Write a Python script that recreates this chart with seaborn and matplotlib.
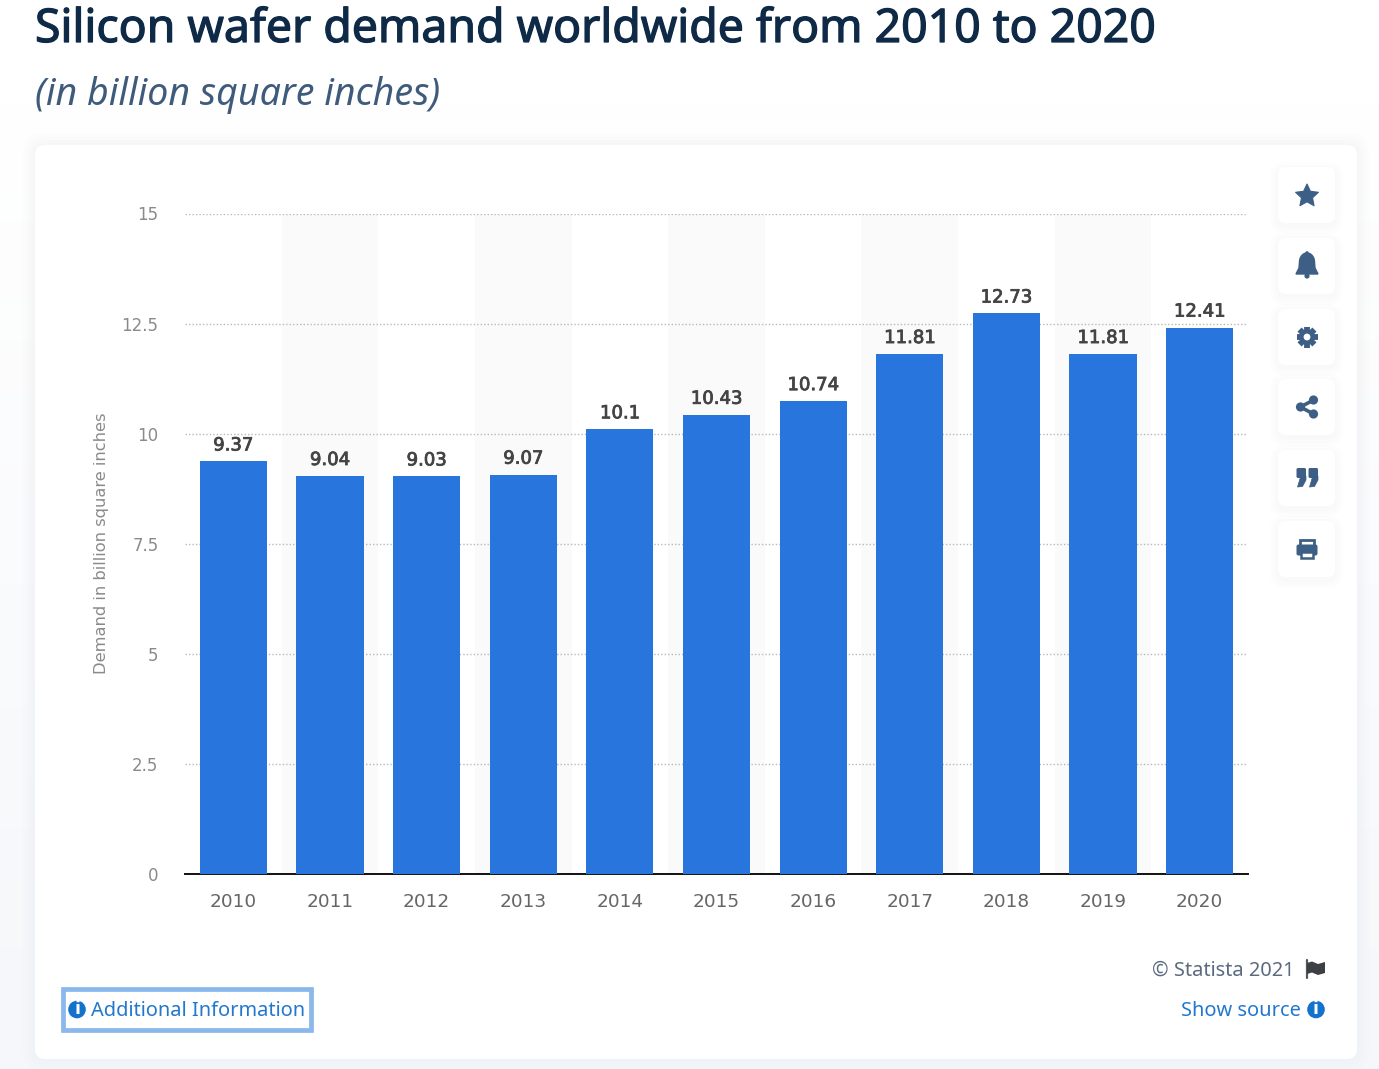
import matplotlib
matplotlib.use("Agg")
import matplotlib.pyplot as plt
import matplotlib.patheffects as pe
from matplotlib.patches import FancyBboxPatch, Rectangle, Circle, Polygon
import numpy as np
import pandas as pd
import seaborn as sns

years = ["2010","2011","2012","2013","2014","2015","2016","2017","2018","2019","2020"]
demand = [9.37,9.04,9.03,9.07,10.1,10.43,10.74,11.81,12.73,11.81,12.41]
labels = ["9.37","9.04","9.03","9.07","10.1","10.43","10.74","11.81","12.73","11.81","12.41"]
yticks = [0,2.5,5,7.5,10,12.5,15]
yticklabels = ["0","2.5","5","7.5","10","12.5","15"]

title = "Silicon wafer demand worldwide from 2010 to 2020"
subtitle = "(in billion square inches)"
ylabel = "Demand in billion square inches"

BLUE = "#2975de"
ICON = "#3d5f85"
LINK = "#2277cf"
W, H = 1379, 1069

sns.set_theme(style="white")
fig = plt.figure(figsize=(W/100, H/100), dpi=100, facecolor="white")

# page layer in pixel coordinates
bg = fig.add_axes([0,0,1,1], zorder=0)
bg.set_xlim(0,W); bg.set_ylim(H,0); bg.axis("off")
grad = np.linspace(0,1,256).reshape(-1,1)
bg.imshow(grad, extent=[0,W,H,100], aspect="auto", zorder=0,
          cmap=matplotlib.colors.LinearSegmentedColormap.from_list("p",["#ffffff","#f5f7fa"]), vmin=0, vmax=1)
bg.set_xlim(0,W); bg.set_ylim(H,0)

def rbox(ax,x0,y0,x1,y1,r,**kw):
    p = FancyBboxPatch((x0+r,y0+r),x1-x0-2*r,y1-y0-2*r,boxstyle=f"round,pad={r},rounding_size={r}",**kw)
    ax.add_patch(p); return p

for g in [12,8,5,2]:
    rbox(bg,35-g,145-g,1357+g,1059+g,10+g,fc="#e3e7ec",ec="none",alpha=0.07,zorder=1)
rbox(bg,35,145,1357,1059,10,fc="white",ec="none",zorder=2)

bg.text(35,30,title,fontsize=33.4,family="Noto Sans",color="#0f2a47",va="center",ha="left",zorder=3,
        path_effects=[pe.withStroke(linewidth=0.9,foreground="#0f2a47")])
bg.text(35,95,subtitle,fontsize=27,family="Noto Sans",style="italic",color="#3f5b7c",va="center",ha="left",zorder=3)

# icon buttons
centers = [195,266,337,407,478,549]
for cy in centers:
    for g in [8,5,2]:
        rbox(bg,1278-g,cy-28-g+3,1335+g,cy+28+g+3,8+g,fc="#e6e9ee",ec="none",alpha=0.07,zorder=3)
    rbox(bg,1278,cy-28,1335,cy+28,8,fc="white",ec="none",zorder=4)
cx = 1307
# star
ang = np.pi/2 + np.arange(10)*np.pi/5
rad = np.where(np.arange(10)%2==0,12,5.8)
bg.add_patch(Polygon(np.c_[cx+rad*np.cos(ang),196-rad*np.sin(ang)],closed=True,fc=ICON,ec=ICON,lw=0.8,joinstyle="round",zorder=5))
# bell
t = np.linspace(np.pi,0,30)
bell = [(cx+7.5*np.cos(a),262+9*(-np.sin(a))) for a in t]
bg.add_patch(Polygon([(cx-11,274),(cx-8,268)]+bell+[(cx+8,268),(cx+11,274)],closed=True,fc=ICON,ec=ICON,lw=1,zorder=5))
bg.add_patch(Circle((cx,276),2.6,fc=ICON,ec="none",zorder=5))
bg.add_patch(Circle((cx,253),1.8,fc=ICON,ec="none",zorder=5))
# gear
gy = 337
for a in np.arange(8)*np.pi/4:
    bg.plot([cx,cx+10.5*np.cos(a)],[gy,gy+10.5*np.sin(a)],color=ICON,lw=4.2,solid_capstyle="butt",zorder=5)
bg.add_patch(Circle((cx,gy),7.8,fc=ICON,ec="none",zorder=5))
bg.add_patch(Circle((cx,gy),3.4,fc="white",ec="none",zorder=6))
# share
pts = [(cx-6.5,407),(cx+6.5,400),(cx+6.5,414)]
bg.plot([pts[1][0],pts[0][0],pts[2][0]],[pts[1][1],pts[0][1],pts[2][1]],color=ICON,lw=2.6,zorder=5)
for p in pts:
    bg.add_patch(Circle(p,4.6,fc=ICON,ec="none",zorder=6))
# quote
for qx in [1296.5,1308.5]:
    rbox(bg,qx,468,qx+9.5,478,1.5,fc=ICON,ec="none",zorder=5)
    bg.add_patch(Polygon([(qx+9.5,476),(qx+9.5,480),(qx+6,486.5),(qx+1,487),(qx+4,477)],closed=True,fc=ICON,ec=ICON,lw=0.5,joinstyle="round",zorder=5))
# printer
bg.add_patch(Rectangle((cx-7,540),14,9,fc="white",ec=ICON,lw=2,zorder=5))
bg.add_patch(FancyBboxPatch((cx-9,546),18,8,boxstyle="round,pad=1.5,rounding_size=2",fc=ICON,ec="none",zorder=5))
bg.add_patch(Rectangle((cx-6,552),12,5.5,fc="white",ec=ICON,lw=1.8,zorder=6))

# footer
bg.text(1294,971,"\u00a9 Statista 2021",fontsize=14.4,family="Noto Sans",color="#5b6b7f",ha="right",va="center",zorder=5)
bg.plot([1306.5,1306.5],[960,978],color="#55585c",lw=1.6,zorder=5)
bg.add_patch(Polygon([(1307,963),(1312,961.5),(1318,964),(1325,962),(1325,973),(1318,975),(1312,972.5),(1307,974)],closed=True,fc="#3c3f44",ec="none",zorder=5))
bg.text(1301,1011.5,"Show source",fontsize=14.4,family="Noto Sans",color=LINK,ha="right",va="center",zorder=5)
bg.add_patch(Rectangle((62.5,988.5),248,41,fc="white",ec="#8ab7ec",lw=3.4,zorder=4))
bg.text(91,1011.5,"Additional Information",fontsize=14.4,family="Noto Sans",color=LINK,ha="left",va="center",zorder=5)
for ix in [77,1316]:
    bg.add_patch(Circle((ix,1009.5),8.8,fc="#1272cc",ec="none",zorder=5))
    bg.text(ix,1009.5,"i",fontsize=12.5,family="DejaVu Sans",weight="bold",color="white",ha="center",va="center",zorder=6)

# chart
x0,x1,ytop,ybot = 185,1248,213.5,874
ax = fig.add_axes([x0/W,1-ybot/H,(x1-x0)/W,(ybot-ytop)/H],zorder=1)
ax.patch.set_alpha(0)
df = pd.DataFrame({"year":years,"demand":demand})
sns.barplot(data=df,x="year",y="demand",color=BLUE,saturation=1,width=0.695,ax=ax,zorder=3,linewidth=0)
ax.set_xlim(-0.5,len(years)-0.5)
ax.set_ylim(0,15)
for i in range(1,len(years),2):
    ax.axvspan(i-0.5,i+0.5,color="#fafafa",lw=0,zorder=0)
ax.set_yticks(yticks); ax.set_yticklabels(yticklabels)
ax.yaxis.grid(True,color="#b9b9b9",linestyle=(0,(1,1.5)),linewidth=1,zorder=1)
ax.set_axisbelow(True)
for s in ["top","right","left"]:
    ax.spines[s].set_visible(False)
ax.spines["bottom"].set_color("#111111"); ax.spines["bottom"].set_linewidth(1.4)
ax.tick_params(axis="x",length=0,pad=13.5,labelsize=13.3,labelcolor="#666666")
ax.tick_params(axis="y",length=0,pad=19,labelsize=12,labelcolor="#8a8a8a")
for l in ax.get_xticklabels()+ax.get_yticklabels():
    l.set_family("DejaVu Sans")
ax.set_xlabel("")
ax.set_ylabel(ylabel,fontsize=11.7,color="#8a8a8a",family="DejaVu Sans",labelpad=9)
for c in ax.containers:
    for t in ax.bar_label(c,labels=labels,padding=5,fontsize=13,color="#444444",family="DejaVu Sans"):
        t.set_path_effects([pe.withStroke(linewidth=0.6,foreground="#444444")])
fig.savefig("out.png",dpi=100)
